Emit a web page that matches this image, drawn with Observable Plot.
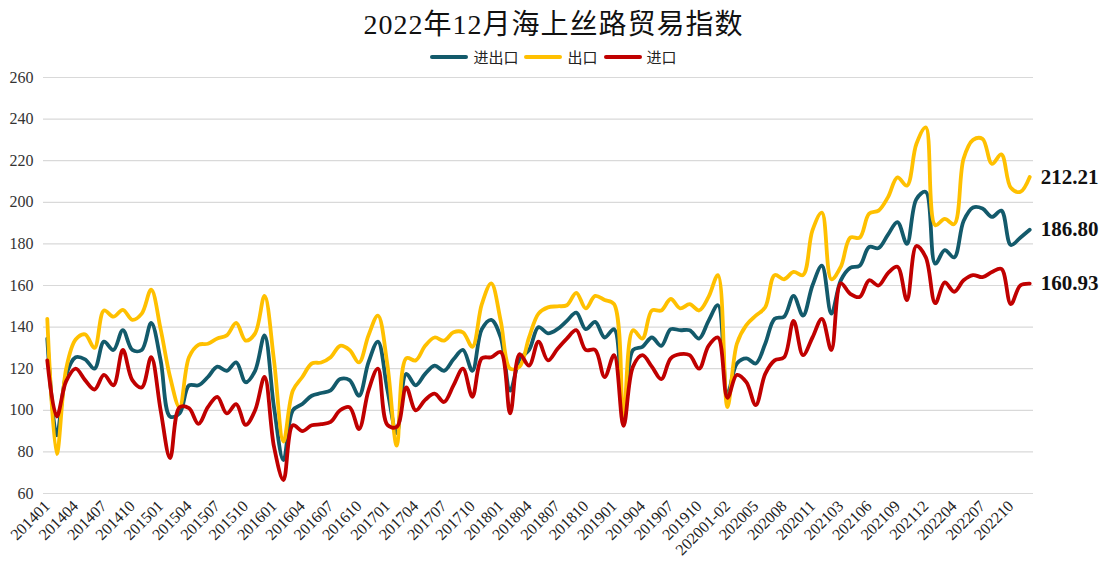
<!DOCTYPE html>
<html>
<head>
<meta charset="utf-8">
<script src="https://cdn.jsdelivr.net/npm/d3@7"></script>
<script src="https://cdn.jsdelivr.net/npm/@observablehq/plot@0.6"></script>
<style>
  html, body { margin: 0; padding: 0; background: #fff; }
  #wrap { position: relative; width: 1107px; height: 577px; overflow: hidden; }
  #title { position: absolute; top: 6px; left: 0; width: 1107px; text-align: center;
    font-family: "Liberation Serif", "Noto Sans CJK SC", serif; font-size: 28px; letter-spacing: 1px; color: #111; line-height: 38px; }
  #legend { position: absolute; top: 46px; left: 0; width: 1107px; display: flex; justify-content: center; align-items: center;
    font-family: "Noto Sans CJK SC", sans-serif; font-size: 15px; color: #222; line-height: 22px; }
  .item { display: flex; align-items: center; margin: 0 3px; }
  .sw { width: 38px; height: 4px; border-radius: 2px; margin-right: 5px; }
  #chart { position: absolute; top: 68px; left: 0; }
</style>
</head>
<body>
<div id="wrap">
  <div id="title">2022年12月海上丝路贸易指数</div>
  <div id="legend"></div>
  <div id="chart"></div>
</div>
<script>
const periods = [
  "201401","201402","201403","201404","201405","201406","201407","201408","201409","201410","201411","201412",
  "201501","201502","201503","201504","201505","201506","201507","201508","201509","201510","201511","201512",
  "201601","201602","201603","201604","201605","201606","201607","201608","201609","201610","201611","201612",
  "201701","201702","201703","201704","201705","201706","201707","201708","201709","201710","201711","201712",
  "201801","201802","201803","201804","201805","201806","201807","201808","201809","201810","201811","201812",
  "201901","201902","201903","201904","201905","201906","201907","201908","201909","201910","201911","201912",
  "202001-02","202003","202004","202005","202006","202007","202008","202009","202010","202011","202012",
  "202101-02","202103","202104","202105","202106","202107","202108","202109","202110","202111","202112",
  "202201-02","202203","202204","202205","202206","202207","202208","202209","202210","202211","202212"
];
const tickLabels = [
  "201401","201404","201407","201410","201501","201504","201507","201510",
  "201601","201604","201607","201610","201701","201704","201707","201710",
  "201801","201804","201807","201810","201901","201904","201907","201910",
  "202001-02","202005","202008","202011","202103","202106","202109","202112",
  "202204","202207","202210"
];
const yTicks = [60, 80, 100, 120, 140, 160, 180, 200, 220, 240, 260];

const seriesNames = ["进出口", "出口", "进口"];
const seriesColors = ["#135a6b", "#ffc000", "#c00000"];

const totalIndex = [
  134.5,88,117,125.5,124.5,120,133,129,138.5,129,129,142,
  124,97,98.5,112,112,116,121,119,123,113.5,119,136,
  101.5,76,100,103,107,108.3,109.6,115,114.5,107,123,133,
  110,89,117.5,112,117.5,121.5,119,124.5,129,119,139,143.5,
  135,109.5,124.5,129,140,137,139,143,147,139,142.5,135,
  139,95,129,130.5,135,131,139,138.5,138.5,134.5,143,150.5,
  108,122.5,125,122.5,132,144,145,155,145.5,160,169.5,
  146.5,162.5,168.5,169.5,178.5,178,184.5,190.5,180,201.5,205,
  170.5,177,173.5,191,197.5,197,193,196,179.5,183,186.80
];
const exportIndex = [
  144,79,120,134,136.5,130,148,145,148.3,143.5,146.5,158,
  139,116,101.5,125.5,131.5,132,134.5,136,142,133.5,137,155,
  124,85,109.5,116,122.5,123,125.5,131,129,123,136,145.5,
  122,83,125,124,131,135,133.5,137.5,137.5,130.5,151,161,
  143,120,121,135,146.5,149.5,150,150.5,156.5,149,155,153,
  151,97,138.5,134.5,148,148,153.5,149,151,148,154.5,165,
  101.5,132,141,145.5,149.5,165,163,166.5,165,186.5,195,
  163,169,183,183,194.5,196,202.5,212,208,228,236,
  189,192,189.5,221,230,230.5,218.5,223,207,205,212.21
];
const importIndex = [
  124,97,114,120,114.5,110,117,112,129,114.5,111,125.5,
  100,77,101.5,101,93.5,101.5,106.5,98.5,103,93,100,116,
  82.5,66.5,92.8,90,92.8,93.3,94.4,100,101.5,91,109.5,120,
  93,92,111,100,105,108,104,112,120,106.5,125,125.5,
  128,98.5,127,121.5,133,124,129.5,134.5,138.5,129,129,116,
  126.5,92.5,121,126.5,121,115,125,127,126.5,120,131,135,
  106,117,113.5,102.5,117.5,124,125.5,143,126.5,135,144,
  129,161,156,154.5,162.5,160,166,169,153,179,173.5,
  151.5,161.5,157,162.5,165,164,166.5,168,151,160,160.93
];

const seriesValues = [totalIndex, exportIndex, importIndex];

// legend
const legend = document.getElementById("legend");
seriesNames.forEach((name, k) => {
  const it = document.createElement("div");
  it.className = "item";
  const sw = document.createElement("div");
  sw.className = "sw";
  sw.style.background = seriesColors[k];
  const tx = document.createElement("span");
  tx.textContent = name;
  it.appendChild(sw); it.appendChild(tx);
  legend.appendChild(it);
});

const rows = seriesValues.map((vals, k) => vals.map((v, i) => ({period: periods[i], value: v, series: seriesNames[k]})));
const lastRows = rows.map(r => r[r.length - 1]);

const lineMarks = rows.map((r, k) => Plot.line(r, {
  x: "period", y: "value", stroke: seriesColors[k], strokeWidth: 3.8,
  curve: "catmull-rom", strokeLinejoin: "round", strokeLinecap: "round"
}));

const chart = Plot.plot({
  width: 1107,
  height: 509,
  marginTop: 9,
  marginBottom: 84,
  marginLeft: 43,
  marginRight: 74,
  style: { fontFamily: "'Liberation Serif', 'Times New Roman', serif", background: "#fff", color: "#333" },
  x: { type: "point", domain: periods, padding: 0.4 },
  y: { domain: [60, 260] },
  marks: [
    Plot.ruleY(yTicks, { stroke: "#d9d9d9", strokeWidth: 1.2 }),
    Plot.axisY(yTicks, { tickSize: 0, tickPadding: 10, fontSize: 16, fill: "#333", label: null }),
    Plot.axisX(tickLabels, { tickSize: 0, tickPadding: 10, tickRotate: -45, fontSize: 16, fill: "#222", label: null }),
    ...lineMarks,
    Plot.text(lastRows, {
      x: "period", y: "value", text: d => d.value.toFixed(2), dx: 11, textAnchor: "start",
      fontSize: 21, fontWeight: "bold", fill: "#111"
    })
  ]
});
document.getElementById("chart").appendChild(chart);
</script>
</body>
</html>
